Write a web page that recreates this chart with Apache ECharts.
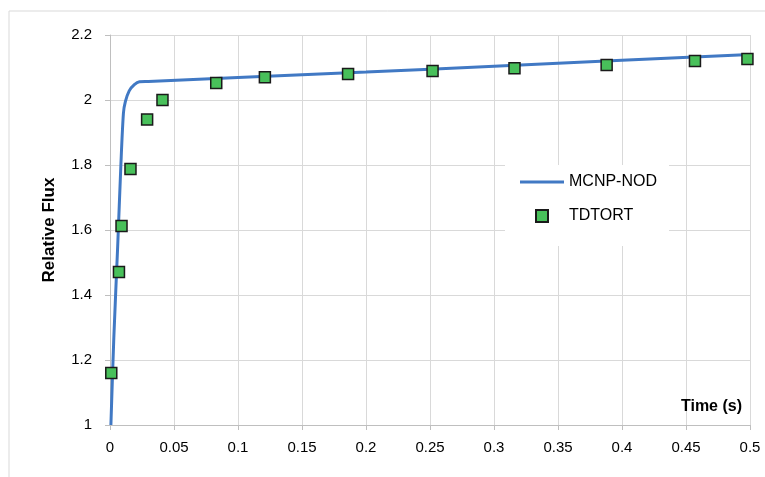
<!DOCTYPE html>
<html><head><meta charset="utf-8">
<script src="https://cdn.jsdelivr.net/npm/echarts@6/dist/echarts.min.js"></script>
<style>html,body{margin:0;padding:0;background:#fff}#c{width:765px;height:477px}</style>
</head><body><div id="c"></div>
<script>
const mcnpTime = [0.0007, 0.003, 0.006, 0.0085, 0.0105, 0.012, 0.015, 0.019, 0.023, 0.03, 0.1, 0.2, 0.3, 0.4, 0.5];
const mcnpFlux = [1.0, 1.27, 1.55, 1.80, 1.96, 1.995, 2.028, 2.047, 2.056, 2.057, 2.069, 2.086, 2.104, 2.122, 2.14];
const tdtortTime = [0.001, 0.007, 0.009, 0.016, 0.029, 0.041, 0.083, 0.121, 0.186, 0.252, 0.316, 0.388, 0.457, 0.498];
const tdtortFlux = [1.16, 1.471, 1.612, 1.788, 1.94, 2.0, 2.052, 2.07, 2.08, 2.089, 2.098, 2.108, 2.12, 2.126];
const xTicks = [0, 0.05, 0.1, 0.15, 0.2, 0.25, 0.3, 0.35, 0.4, 0.45, 0.5];
const yTicks = [1, 1.2, 1.4, 1.6, 1.8, 2, 2.2];

const font = 'Liberation Sans, Arial, sans-serif';
const chart = echarts.init(document.getElementById('c'));
chart.setOption({
  animation: false,
  backgroundColor: '#fff',
  grid: {left: 110, right: 15, top: 35, bottom: 52},
  graphic: [{type: 'rect', shape: {x: 9, y: 11, width: 800, height: 520}, style: {fill: 'none', stroke: '#d9d9d9', lineWidth: 1}, z: -1}],
  legend: {
    left: 505, top: 165, orient: 'vertical', backgroundColor: '#fff', padding: [9, 12, 22, 14],
    itemGap: 18, itemWidth: 44, itemHeight: 12,
    textStyle: {fontFamily: font, fontSize: 16, color: '#000'},
    data: [
      {name: 'MCNP-NOD', icon: 'path://M0,4.5 L44,4.5 L44,7.5 L0,7.5 Z'},
      {name: 'TDTORT', icon: 'path://M0,0 L0,0 M16,0 L28,0 L28,12 L16,12 Z M44,12 L44,12'}
    ]
  },
  xAxis: {
    type: 'value', min: 0, max: 0.5, interval: 0.05,
    name: 'Time (s)', nameLocation: 'end', nameGap: -8,
    nameTextStyle: {fontFamily: font, fontSize: 16, fontWeight: 'bold', color: '#000', align: 'right', verticalAlign: 'bottom', padding: [0, 0, 10, 0]},
    axisLine: {show: true, lineStyle: {color: '#bfbfbf', width: 1}},
    axisTick: {show: true, length: 5, lineStyle: {color: '#bfbfbf'}},
    axisLabel: {fontFamily: font, fontSize: 15, color: '#000', margin: 15,
      formatter: v => { const t = xTicks.find(x => Math.abs(x - v) < 1e-9); return t === undefined ? '' : String(t); }},
    splitLine: {show: true, lineStyle: {color: '#d9d9d9', width: 1}}
  },
  yAxis: {
    type: 'value', min: 1, max: 2.2, interval: 0.2,
    name: 'Relative Flux', nameLocation: 'middle', nameGap: 52, nameRotate: 90,
    nameTextStyle: {fontFamily: font, fontSize: 17, fontWeight: 'bold', color: '#000'},
    axisLine: {show: true, lineStyle: {color: '#bfbfbf', width: 1}},
    axisTick: {show: true, length: 5, lineStyle: {color: '#bfbfbf'}},
    axisLabel: {fontFamily: font, fontSize: 15, color: '#000', margin: 18,
      formatter: v => { const t = yTicks.find(y => Math.abs(y - v) < 1e-9); return t === undefined ? '' : String(t); }},
    splitLine: {show: true, lineStyle: {color: '#d9d9d9', width: 1}}
  },
  series: [
    {
      name: 'MCNP-NOD', type: 'line', smooth: 0.3, showSymbol: false, symbol: 'none',
      data: mcnpTime.map((t, i) => [t, mcnpFlux[i]]),
      lineStyle: {color: '#4179c4', width: 3}, itemStyle: {color: '#4179c4'}, z: 2
    },
    {
      name: 'TDTORT', type: 'scatter', symbol: 'rect', symbolSize: 11,
      data: tdtortTime.map((t, i) => [t, tdtortFlux[i]]),
      itemStyle: {color: '#48c05a', borderColor: '#1a1a1a', borderWidth: 1.5, opacity: 1}, z: 3
    }
  ]
});
</script></body></html>
